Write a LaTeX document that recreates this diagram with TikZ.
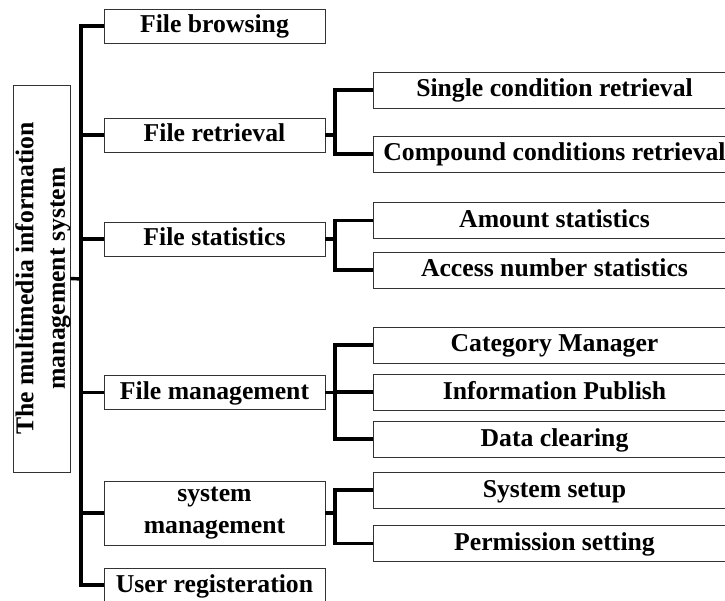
\documentclass[tikz,border=0pt]{standalone}
\usepackage{fontspec}
\setmainfont{Liberation Serif}
\begin{document}
\begin{tikzpicture}[x=1pt,y=-1pt,
  txt/.style={font=\fontsize{25.7}{31.5}\selectfont\bfseries},
  box/.style={draw=black!80, line width=0.9pt, inner sep=0pt, txt},
  lone/.style={box, minimum width=221pt, minimum height=34pt, text height=19pt, text depth=5pt},
  ltwo/.style={box, minimum width=363pt, minimum height=36pt, text height=19pt, text depth=5pt},
  conn/.style={line width=3.4pt}]
\useasboundingbox (0,0) rectangle (725,601);
\clip (0,0) rectangle (725,601);

% root box with rotated title
\node[draw=black!80, line width=0.9pt, minimum width=57pt, minimum height=387pt, inner sep=0pt] (root) at (41.5,278.5) {};
\node[txt, rotate=90, align=center, inner sep=0pt] (roottxt) at (43,278.5) {The multimedia information\\management system};

% first level
\node[lone] (fb) at (214.5,26) {File browsing};
\node[lone] (fr) at (214.5,135) {File retrieval};
\node[lone] (fs) at (214.5,239) {File statistics};
\node[lone] (fm) at (214.5,392.5) {File management};
\node[box, minimum width=221pt, minimum height=64pt, align=center] (sm) at (214.5,513) {system\\management};
\node[lone] (ur) at (214.5,585) {User registeration};

% second level
\node[ltwo] (sc) at (554.5,90) {Single condition retrieval};
\node[ltwo] (cc) at (554.5,154) {Compound conditions retrieval};
\node[ltwo] (as) at (554.5,220.5) {Amount statistics};
\node[ltwo] (an) at (554.5,270) {Access number statistics};
\node[ltwo] (cm) at (554.5,345) {Category Manager};
\node[ltwo] (ip) at (554.5,392) {Information Publish};
\node[ltwo] (dc) at (554.5,439) {Data clearing};
\node[ltwo] (ss) at (554.5,490) {System setup};
\node[ltwo] (ps) at (554.5,543.5) {Permission setting};

% trunk
\coordinate (tr) at (81,279);
\draw[conn] (root.east) -- (tr);
\draw[conn] (fb.west) -| (tr) |- (ur.west);
\foreach \n in {fr,fs,fm,sm}
  \draw[conn] (\n.west) -- (\n.west -| tr);

% sub-brackets
\coordinate (jr) at (335,135);
\coordinate (js) at (335,239);
\coordinate (jm) at (335,392.5);
\coordinate (jy) at (335,513);
\draw[conn] (fr.east) -- (jr);
\draw[conn] (sc.west) -| (jr) |- (cc.west);
\draw[conn] (fs.east) -- (js);
\draw[conn] (as.west) -| (js) |- (an.west);
\draw[conn] (fm.east) -- (jm);
\draw[conn] (cm.west) -| (jm) |- (dc.west);
\draw[conn] (ip.west) -- (ip.west -| jm);
\draw[conn] (sm.east) -- (jy);
\draw[conn] (ss.west) -| (jy) |- (ps.west);
\end{tikzpicture}
\end{document}
